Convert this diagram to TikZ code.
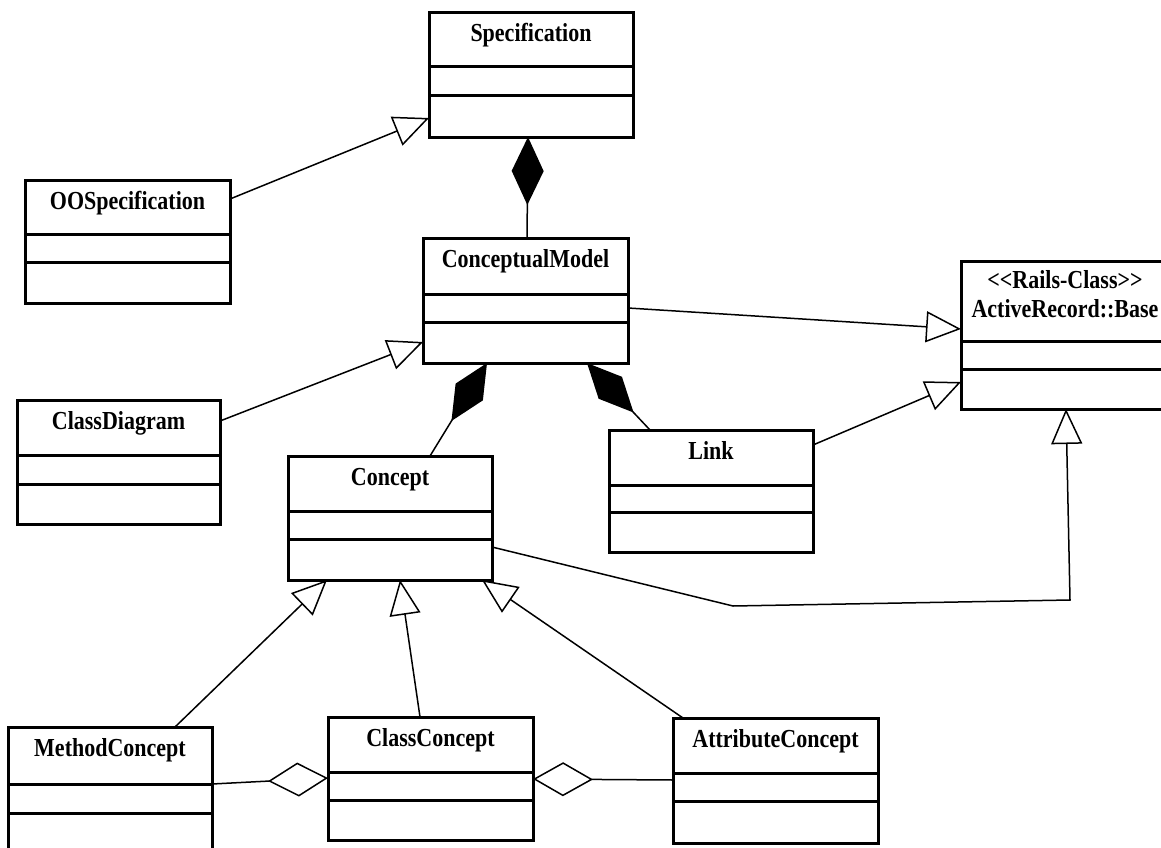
\documentclass[tikz,border=0pt]{standalone}
\usepackage{fontspec}
\setmainfont{Liberation Serif}
\usetikzlibrary{arrows.meta}

\tikzset{
  classbox/.style={draw, line width=3pt, fill=white, inner sep=0pt, outer sep=0pt, anchor=north west},
  compartment/.style={line width=3pt},
  classname/.style={font=\fontsize{22}{28}\selectfont\bfseries, inner sep=0pt, anchor=base},
  connector/.style={line width=1.5pt},
  inherit/.style={connector, -{Triangle[open, length=35pt, width=31pt, fill=white]}},
  compose/.style={connector, -{Diamond[length=68pt, width=32pt]}},
  aggregate/.style={connector, -{Diamond[open, length=60pt, width=34pt, fill=white]}},
}

% #1 name, #2 left, #3 top, #4 width, #5 height, #6/#7 compartment offsets, #8 class name
\newcommand\umlclass[8]{%
  \node[classbox, minimum width=#4pt, minimum height=#5pt] (#1) at (#2,#3) {};
  \draw[compartment] ([yshift=-#6pt]#1.north west) -- ([yshift=-#6pt]#1.north east);
  \draw[compartment] ([yshift=-#7pt]#1.north west) -- ([yshift=-#7pt]#1.north east);
  \node[classname] (#1-name) at ([yshift=-29pt]#1.north) {\scalebox{1}[1.18]{#8}};
}

\begin{document}
\begin{tikzpicture}[x=1pt, y=-1pt]
  \fill[white] (0,0) rectangle (1161,848);
  \clip (0,0) rectangle (1161,848);

  % classes
  \umlclass{spec}{429}{13}{204}{124}{54}{83}{Specification}
  \umlclass{oospec}{25}{180}{205}{123}{54}{82}{OOSpecification}
  \umlclass{cm}{423}{238}{205}{125}{56}{84}{ConceptualModel}
  \umlclass{cd}{17}{400}{203}{124}{55}{84}{ClassDiagram}
  \umlclass{link}{609}{430}{204}{122}{55}{82}{Link}
  \umlclass{concept}{288}{456}{204}{124}{55}{83}{Concept}
  \umlclass{mc}{8}{727}{204}{124}{57}{86}{MethodConcept}
  \umlclass{cc}{328}{717}{205}{123}{55}{83}{ClassConcept}
  \umlclass{ac}{673}{718}{205}{125}{55}{83}{AttributeConcept}

  % Rails base class with a stereotype line
  \node[classbox, minimum width=208pt, minimum height=148pt] (ar) at (961,261) {};
  \draw[compartment] ([yshift=-80pt]ar.north west) -- ([yshift=-80pt]ar.north east);
  \draw[compartment] ([yshift=-108pt]ar.north west) -- ([yshift=-108pt]ar.north east);
  \node[classname] (ar-stereo) at ([yshift=-27pt]ar.north) {\scalebox{1}[1.18]{<\kern0pt<Rails-Class>\kern0pt>}};
  \node[classname] (ar-name) at ([yshift=-56pt]ar.north) {\scalebox{1}[1.18]{ActiveRecord::Base}};

  % bend points of the Concept generalization
  \coordinate (bend1) at (733,606);
  \coordinate (bend2) at (1070,600);

  % generalizations
  \draw[inherit] ([yshift=-19pt]oospec.north east) -- ([yshift=-105pt]spec.north west);
  \draw[inherit] ([yshift=-21pt]cd.north east) -- ([yshift=-104pt]cm.north west);
  \draw[inherit] ([yshift=-70pt]cm.north east) -- ([yshift=-68pt]ar.north west);
  \draw[inherit] ([yshift=-15pt]link.north east) -- ([yshift=-121pt]ar.north west);
  \draw[inherit] ([yshift=-91pt]concept.north east) -- (bend1) -- (bend2) -- ([xshift=105pt]ar.south west);
  \draw[inherit] ([xshift=167pt]mc.north west) -- ([xshift=39pt]concept.south west);
  \draw[inherit] ([xshift=92pt]cc.north west) -- ([xshift=112pt]concept.south west);
  \draw[inherit] ([xshift=10pt]ac.north west) -- ([xshift=194pt]concept.south west);

  % compositions
  \draw[compose] ([xshift=1.5pt]cm.north) -- ([xshift=-3pt]spec.south);
  \draw[compose] ([xshift=142pt]concept.north west) -- ([xshift=64pt]cm.south west);
  \draw[compose] ([xshift=41pt]link.north west) -- ([xshift=164pt]cm.south west);

  % aggregations
  \draw[aggregate] ([yshift=-57pt]mc.north east) -- ([yshift=-61pt]cc.north west);
  \draw[aggregate] ([yshift=-62pt]ac.north west) -- ([yshift=-62pt]cc.north east);
\end{tikzpicture}
\end{document}
